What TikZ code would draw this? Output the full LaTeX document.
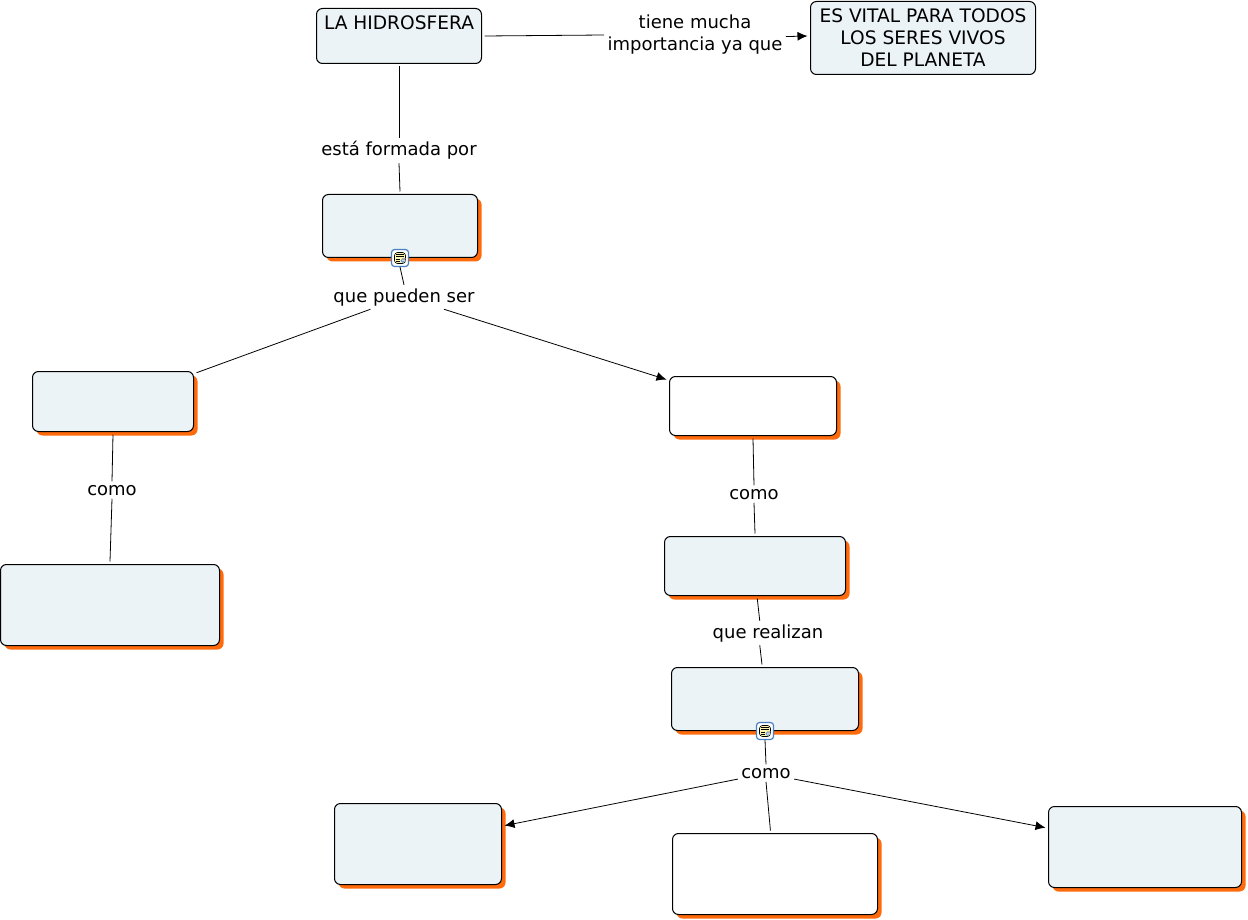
\documentclass[tikz,border=0pt]{standalone}
\usepackage{fontspec}
\usepackage{xcolor}
\usepackage{tikz}
\usetikzlibrary{arrows.meta,shadows}
\setmainfont{DejaVu Sans}
\definecolor{boxfill}{HTML}{EBF3F6}
\definecolor{shade}{HTML}{FF6A0D}
\definecolor{iconblue}{HTML}{4A7FC4}
\definecolor{iconpaper}{HTML}{FFF6B0}
\definecolor{iconpic}{HTML}{6E9FD0}
\tikzset{
  concept/.style={draw=black,line width=1pt,rounded corners=6pt,fill=boxfill,
    align=center,inner sep=0pt,outer sep=3pt,
    font=\fontsize{18.6}{22}\selectfont},
  shaded/.style={concept,copy shadow={draw=none,fill=shade,shadow xshift=4pt,shadow yshift=-4pt}},
  blank/.style={fill=white},
  sized/.style 2 args={minimum width=#1,minimum height=#2},
  lbl/.style={align=center,inner sep=0pt,outer sep=3.5pt},
  link/.style={line width=0.8pt,black},
  linkto/.style={link,-{Latex[length=10pt,width=9pt]}},
  noteicon/.style={draw=iconblue,line width=1.2pt,rounded corners=3pt,fill=white,
    minimum size=17pt,inner sep=0pt,outer sep=0.5pt,
    path picture={
      \fill[iconpaper,draw=black,line width=0.6pt] (path picture bounding box.center)
        ++(-5.5pt,-5.5pt) rectangle ++(11pt,11pt);
      \fill[iconpic] (path picture bounding box.center) ++(0.5pt,-5pt) rectangle ++(4.5pt,4.5pt);
      \fill[shade] (path picture bounding box.center) ++(2.5pt,-3pt) rectangle ++(2.5pt,2.5pt);
      \foreach \yy in {-3.5,-1}
        \draw[black,line width=0.7pt] (path picture bounding box.center)
          ++(-4pt,\yy pt) -- ++(3.5pt,0);
      \foreach \yy in {1.5,3.5}
        \draw[black,line width=0.7pt] (path picture bounding box.center)
          ++(-4pt,\yy pt) -- ++(8pt,0);
    }},
}
\begin{document}
\begin{tikzpicture}[x=1pt,y=-1pt,font=\fontsize{18}{22}\selectfont]
  \useasboundingbox (0,0) rectangle (1248,920);
  % boxes
  \node[concept,sized={165pt}{55pt},text height=21pt,text depth=34pt] (root) at (399,36) {LA HIDROSFERA};
  \node[concept,sized={225pt}{73pt}] (vital) at (923,38) {ES VITAL PARA TODOS\\LOS SERES VIVOS\\DEL PLANETA};
  \node[shaded,sized={155pt}{63pt}] (water) at (400,226) {};
  \node[shaded,sized={161pt}{60pt}] (leftbox) at (113,401.5) {};
  \node[shaded,blank,sized={167pt}{59pt}] (rightbox) at (753,406) {};
  \node[shaded,sized={219pt}{81pt}] (example) at (110,605) {};
  \node[shaded,sized={181pt}{59pt}] (beings) at (755,566) {};
  \node[shaded,sized={187pt}{63pt}] (process) at (765,699) {};
  \node[shaded,sized={167pt}{81pt}] (first) at (418,844) {};
  \node[shaded,blank,sized={205pt}{81pt}] (second) at (775,874) {};
  \node[shaded,sized={193pt}{81pt}] (third) at (1145,847) {};
  % icons
  \node[noteicon] (iconwater) at (400,258) {};
  \node[noteicon] (iconprocess) at (765,731) {};
  % labels
  \node[lbl] (lblimp) at (695,35) {tiene mucha\\importancia ya que};
  \node[lbl,anchor=base] (lblform) at (399,156) {está formada por};
  \node[lbl,anchor=base] (lblser) at (404,302) {que pueden ser};
  \node[lbl,anchor=base] (lblcomoa) at (112,495) {como};
  \node[lbl,anchor=base] (lblcomob) at (754,499) {como};
  \node[lbl,anchor=base] (lblreal) at (768,638) {que realizan};
  \node[lbl,anchor=base] (lblcomoc) at (766,778) {como};
  % connectors
  \draw[link] (root.east) -- (lblimp.180);
  \draw[linkto] (lblimp.-1) -- (vital.179);
  \draw[link] (root.south) -- (lblform.north);
  \draw[link] (lblform.south) -- (water.north);
  \draw[link] (iconwater.south) -- (lblser.north);
  \draw[link] (lblser.200) -- (leftbox.19);
  \draw[linkto] (lblser.-17) -- (rightbox.163);
  \draw[link] (leftbox.south) -- (lblcomoa.north);
  \draw[link] (lblcomoa.south) -- (example.north);
  \draw[link] (rightbox.south) -- (lblcomob.north);
  \draw[link] (lblcomob.south) -- (beings.north);
  \draw[link] (beings.-86) -- (lblreal.124);
  \draw[link] (lblreal.-124) -- (process.95);
  \draw[link] (iconprocess.south) -- (lblcomoc.north);
  \draw[linkto] (lblcomoc.192) -- (first.12);
  \draw[link] (lblcomoc.south) -- (second.96);
  \draw[linkto] (lblcomoc.-12) -- (third.169);
\end{tikzpicture}
\end{document}
